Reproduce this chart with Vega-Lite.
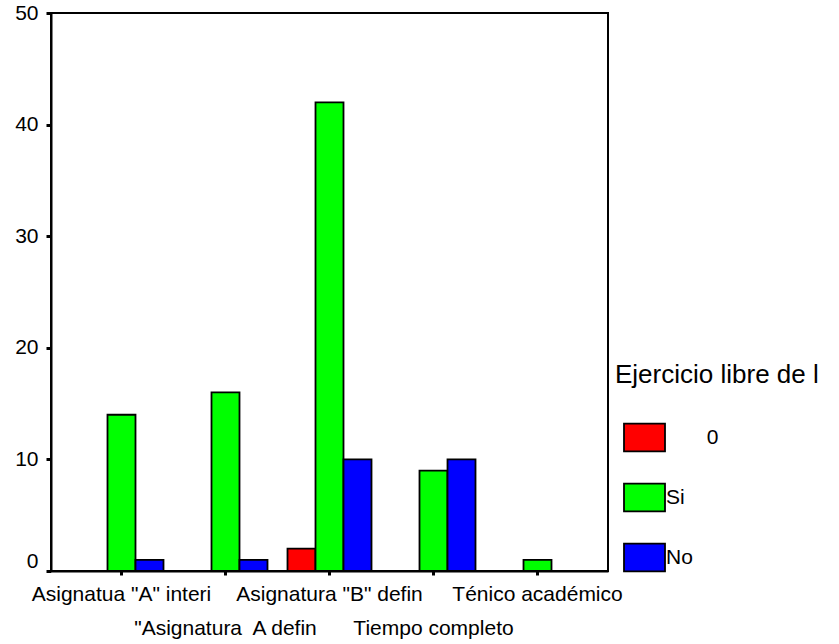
{
  "$schema": "https://vega.github.io/schema/vega-lite/v6.json",
  "width": 557,
  "height": 558,
  "autosize": {"type": "none"},
  "padding": {"left": 51, "top": 13, "right": 231, "bottom": 73},
  "background": "white",
  "config": {
    "font": "Liberation Sans",
    "view": {"stroke": "black", "strokeWidth": 2},
    "axis": {"grid": false, "domainColor": "black", "domainWidth": 2, "tickColor": "black", "labelColor": "black", "labelFont": "Liberation Sans", "labelFontSize": 21}
  },
  "data": {
    "values": [
      {"cat": "Asignatua \"A\" interi", "grupo": "0", "n": 0},
      {"cat": "Asignatua \"A\" interi", "grupo": "Si", "n": 14},
      {"cat": "Asignatua \"A\" interi", "grupo": "No", "n": 1},
      {"cat": "\"Asignatura  A defin", "grupo": "0", "n": 0},
      {"cat": "\"Asignatura  A defin", "grupo": "Si", "n": 16},
      {"cat": "\"Asignatura  A defin", "grupo": "No", "n": 1},
      {"cat": "Asignatura \"B\" defin", "grupo": "0", "n": 2},
      {"cat": "Asignatura \"B\" defin", "grupo": "Si", "n": 42},
      {"cat": "Asignatura \"B\" defin", "grupo": "No", "n": 10},
      {"cat": "Tiempo completo", "grupo": "0", "n": 0},
      {"cat": "Tiempo completo", "grupo": "Si", "n": 9},
      {"cat": "Tiempo completo", "grupo": "No", "n": 10},
      {"cat": "Ténico académico", "grupo": "0", "n": 0},
      {"cat": "Ténico académico", "grupo": "Si", "n": 1},
      {"cat": "Ténico académico", "grupo": "No", "n": 0}
    ]
  },
  "mark": {"type": "bar", "stroke": "black", "strokeWidth": 1.8},
  "encoding": {
    "x": {
      "field": "cat",
      "type": "nominal",
      "sort": ["Asignatua \"A\" interi", "\"Asignatura  A defin", "Asignatura \"B\" defin", "Tiempo completo", "Ténico académico"],
      "scale": {"paddingInner": 0.1923, "paddingOuter": 0.274},
      "axis": {
        "title": null,
        "labelAngle": 0,
        "labelLimit": 0,
        "labelOverlap": false,
        "labelBaseline": "top",
        "labelPadding": 8,
        "labelLineHeight": 34,
        "tickSize": 4,
        "tickWidth": 3,
        "labelExpr": "(datum.value == '\"Asignatura  A defin' || datum.value == 'Tiempo completo') ? ['', replace(datum.label, '  ', '\u00a0 ')] : datum.label"
      }
    },
    "xOffset": {
      "field": "grupo",
      "type": "nominal",
      "sort": ["0", "Si", "No"],
      "scale": {"paddingInner": 0, "paddingOuter": 0}
    },
    "y": {
      "field": "n",
      "type": "quantitative",
      "scale": {"domain": [0, 50], "nice": false},
      "axis": {
        "title": null,
        "values": [0, 10, 20, 30, 40, 50],
        "tickSize": 5,
        "tickWidth": 3,
        "labelPadding": 8,
        "labelBaseline": {"condition": {"test": "datum.value == 0", "value": "bottom"}, "value": "middle"}
      }
    },
    "color": {
      "field": "grupo",
      "type": "nominal",
      "sort": ["0", "Si", "No"],
      "scale": {"domain": ["0", "Si", "No"], "range": ["#ff0000", "#00ff00", "#0000ff"]},
      "legend": {
        "orient": "none",
        "legendX": 564,
        "legendY": 349,
        "title": "Ejercicio libre de l",
        "titleFontSize": 26,
        "titleFontWeight": "normal",
        "titleColor": "black",
        "titleLimit": 0,
        "titlePadding": 28,
        "labelFontSize": 21,
        "labelColor": "black",
        "labelLimit": 0,
        "labelExpr": "(datum.value == '0' || datum.label == '0') ? '\u200b\u00a0\u00a0\u00a0\u00a0\u00a0\u00a0\u00a00' : datum.label",
        "symbolType": "M-1,-0.68H1V0.68H-1Z",
        "symbolSize": 1681,
        "symbolStrokeColor": "black",
        "symbolStrokeWidth": 1.8,
        "symbolOpacity": 1,
        "symbolOffset": 8,
        "labelOffset": 0,
        "rowPadding": 20,
        "padding": 0
      }
    }
  }
}
